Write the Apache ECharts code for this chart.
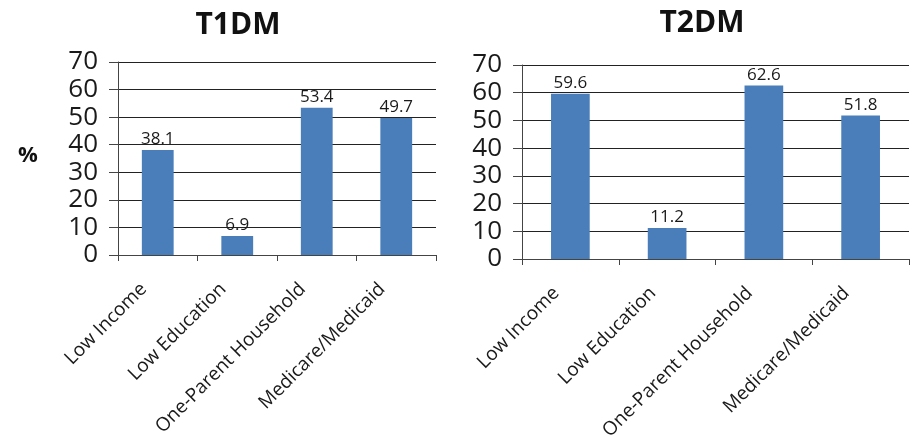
<!DOCTYPE html>
<html>
<head>
<meta charset="utf-8">
<script src="https://cdn.jsdelivr.net/npm/echarts@6/dist/echarts.min.js"></script>
<style>
  html, body { margin: 0; padding: 0; background: #fff; }
  #chart { width: 918px; height: 444px; }
</style>
</head>
<body>
<div id="chart"></div>
<script>
// data
const categories = ['Low Income', 'Low Education', 'One-Parent Household', 'Medicare/Medicaid'];
const t1dmValues = [38.1, 6.9, 53.4, 49.7];
const t2dmValues = [59.6, 11.2, 62.6, 51.8];
const panelTitles = ['T1DM', 'T2DM'];
const yMin = 0, yMax = 70, yStep = 10;

const font = '"Open Sans", Lato, sans-serif';
const barColor = '#4a7ebb';

function xAxisFor(gridIndex) {
  return {
    type: 'category',
    gridIndex: gridIndex,
    data: categories,
    axisLine: { lineStyle: { color: '#444', width: 1 } },
    axisTick: { show: true, length: 6, lineStyle: { color: '#444' } },
    axisLabel: {
      rotate: 45, interval: 0, margin: 17,
      padding: [0, 20, 0, 0],
      fontFamily: font, fontSize: 19, color: '#1a1a1a'
    }
  };
}

function yAxisFor(gridIndex) {
  return {
    type: 'value',
    gridIndex: gridIndex,
    min: yMin, max: yMax, interval: yStep,
    axisLine: { show: true, lineStyle: { color: '#444', width: 1 } },
    axisTick: { show: true, length: 9, lineStyle: { color: '#444' } },
    splitLine: { lineStyle: { color: '#222', width: 1 } },
    axisLabel: { fontFamily: font, fontSize: 26, color: '#1a1a1a', margin: 20 }
  };
}

function barSeries(idx, values) {
  return {
    type: 'bar',
    xAxisIndex: idx, yAxisIndex: idx,
    data: values,
    barWidth: '40%',
    itemStyle: { color: barColor },
    label: {
      show: true, position: 'top', distance: 2,
      fontFamily: font, fontSize: 17, color: '#1a1a1a'
    }
  };
}

const chart = echarts.init(document.getElementById('chart'));
chart.setOption({
  backgroundColor: '#fff',
  animation: false,
  title: [
    { text: panelTitles[0], left: 233, top: 5, textAlign: 'center',
      textStyle: { fontFamily: font, fontWeight: 'bold', fontSize: 30, color: '#111' } },
    { text: panelTitles[1], left: 697, top: 3, textAlign: 'center',
      textStyle: { fontFamily: font, fontWeight: 'bold', fontSize: 30, color: '#111' } }
  ],
  graphic: [
    { type: 'text', left: 18, top: 145,
      style: { text: '%', fontFamily: font, fontWeight: 'bold', fontSize: 22, fill: '#111' } }
  ],
  grid: [
    { left: 118, right: 482, top: 62, bottom: 189 },
    { left: 522, right: 9, top: 65, bottom: 185 }
  ],
  xAxis: [xAxisFor(0), xAxisFor(1)],
  yAxis: [yAxisFor(0), yAxisFor(1)],
  series: [barSeries(0, t1dmValues), barSeries(1, t2dmValues)]
});
</script>
</body>
</html>
